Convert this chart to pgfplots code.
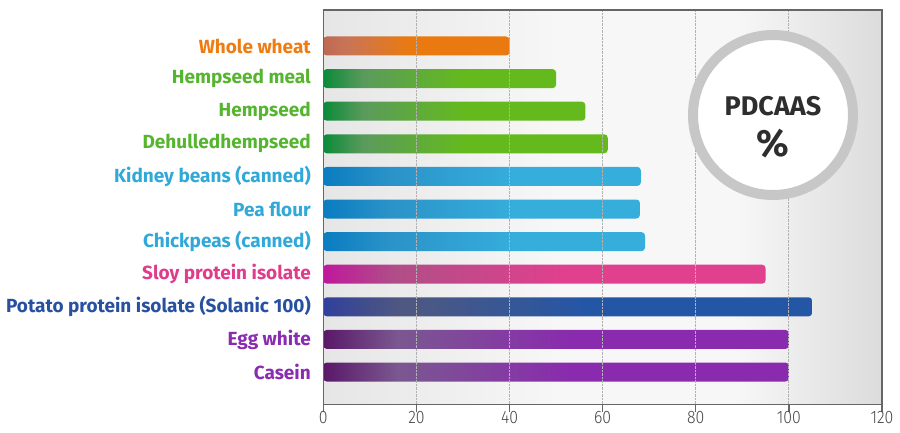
\documentclass[border=0pt]{standalone}
\usepackage{pgfplots}
\pgfplotsset{compat=1.18}
\usepackage{fontspec}
\setmainfont{Fira Sans}
\newfontfamily\labfont{Fira Sans}
\newfontfamily\tickfont{Fira Sans Light}[FakeStretch=0.88]

\definecolor{cWheatT}{HTML}{EE7C12}
\definecolor{cGreenT}{HTML}{55B52E}
\definecolor{cBlueT}{HTML}{30A8D8}
\definecolor{cSoyT}{HTML}{E03C8C}
\definecolor{cPotT}{HTML}{2850A0}
\definecolor{cPurT}{HTML}{8A2CB0}

\definecolor{wL}{HTML}{BC6A52}\definecolor{wM}{HTML}{C87458}\definecolor{wR}{HTML}{EA7A10}
\definecolor{gL}{HTML}{0A8A3A}\definecolor{gM}{HTML}{5A9A5C}\definecolor{gR}{HTML}{64BA1C}
\definecolor{bL}{HTML}{0A7CC0}\definecolor{bM}{HTML}{2A92C8}\definecolor{bR}{HTML}{36AEDC}
\definecolor{sL}{HTML}{C0189C}\definecolor{sM}{HTML}{B04E88}\definecolor{sR}{HTML}{E0408E}
\definecolor{pL}{HTML}{30409C}\definecolor{pM}{HTML}{505880}\definecolor{pR}{HTML}{2456A6}
\definecolor{uL}{HTML}{5A1868}\definecolor{uM}{HTML}{7A5890}\definecolor{uR}{HTML}{8A2AAE}
\definecolor{bgA}{HTML}{E6E6E6}\definecolor{bgB}{HTML}{F7F7F7}\definecolor{bgC}{HTML}{DCDCDC}

\pgfdeclarehorizontalshading{shW}{100bp}{color(0bp)=(wL); color(25bp)=(wL); color(31bp)=(wM); color(48bp)=(wR); color(100bp)=(wR)}
\pgfdeclarehorizontalshading{shG}{100bp}{color(0bp)=(gL); color(25bp)=(gL); color(32bp)=(gM); color(50bp)=(gR); color(100bp)=(gR)}
\pgfdeclarehorizontalshading{shB}{100bp}{color(0bp)=(bL); color(25bp)=(bL); color(35bp)=(bM); color(55bp)=(bR); color(100bp)=(bR)}
\pgfdeclarehorizontalshading{shS}{100bp}{color(0bp)=(sL); color(25bp)=(sL); color(33bp)=(sM); color(52bp)=(sR); color(100bp)=(sR)}
\pgfdeclarehorizontalshading{shP}{100bp}{color(0bp)=(pL); color(25bp)=(pL); color(33bp)=(pM); color(52bp)=(pR); color(100bp)=(pR)}
\pgfdeclarehorizontalshading{shU}{100bp}{color(0bp)=(uL); color(25bp)=(uL); color(33bp)=(uM); color(52bp)=(uR); color(100bp)=(uR)}
\pgfdeclarehorizontalshading{bgshade}{100bp}{color(0bp)=(bgA); color(25bp)=(bgA); color(46bp)=(bgB); color(62bp)=(bgB); color(75bp)=(bgC); color(100bp)=(bgC)}

\begin{document}
\begin{tikzpicture}
\useasboundingbox (0,0) rectangle (900pt,432pt);
\begin{axis}[
  at={(323.3pt,27.7pt)}, anchor=south west,
  scale only axis, width=558.7pt, height=394.3pt,
  xmin=0, xmax=120, ymin=-1.104, ymax=10.99, y dir=reverse,
  xtick={0,20,...,120}, ytick={0,...,10},
  yticklabels={
    {\textcolor{cWheatT}{Whole wheat}},
    {\textcolor{cGreenT}{Hempseed meal}},
    {\textcolor{cGreenT}{Hempseed}},
    {\textcolor{cGreenT}{Dehulledhempseed}},
    {\textcolor{cBlueT}{Kidney beans (canned)}},
    {\textcolor{cBlueT}{Pea flour}},
    {\textcolor{cBlueT}{Chickpeas (canned)}},
    {\textcolor{cSoyT}{Sloy protein isolate}},
    {\textcolor{cPotT}{Potato protein isolate (Solanic 100)}},
    {\textcolor{cPurT}{Egg white}},
    {\textcolor{cPurT}{Casein}}},
  xmajorgrids, grid style={densely dotted, color=black!30, line width=0.8pt},
  axis on top,
  axis line style={color=black!60, line width=1.3pt},
  major tick length=8pt, tick align=outside,
  xtick pos=bottom, ytick pos=left,
  xtick style={color=black!60, line width=1.3pt},
  ytick style={draw=none},
  yticklabel style={font=\labfont\bfseries\fontsize{19}{22}\selectfont, anchor=east, xshift=-1pt},
  xticklabel style={font=\tickfont\fontsize{18}{20}\selectfont, text=black!72, inner sep=0pt, yshift=1pt},
  /pgf/number format/assume math mode=true,
  axis background/.style={shading=bgshade},
  xbar, bar shift=0pt, bar width=19pt,
  every axis plot/.append style={draw=none, rounded corners=3.5pt},
]
\addplot[shading=shW] coordinates {(40,0)};
\addplot[shading=shG] coordinates {(50,1) (56.3,2) (61.1,3)};
\addplot[shading=shB] coordinates {(68.2,4) (68,5) (69.1,6)};
\addplot[shading=shS] coordinates {(95,7)};
\addplot[shading=shP] coordinates {(105,8)};
\addplot[shading=shU] coordinates {(100,9) (100,10)};
\end{axis}
\draw[color=black!22, line width=10pt, fill=white] (773pt,317pt) circle (80pt);
\node[text=black!82, font=\bfseries\fontsize{27}{30}\selectfont] at (773pt,326pt) {PDCAAS};
\node[text=black!82, font=\bfseries\fontsize{38}{42}\selectfont] at (773pt,288pt) {\%};
\end{tikzpicture}
\end{document}
